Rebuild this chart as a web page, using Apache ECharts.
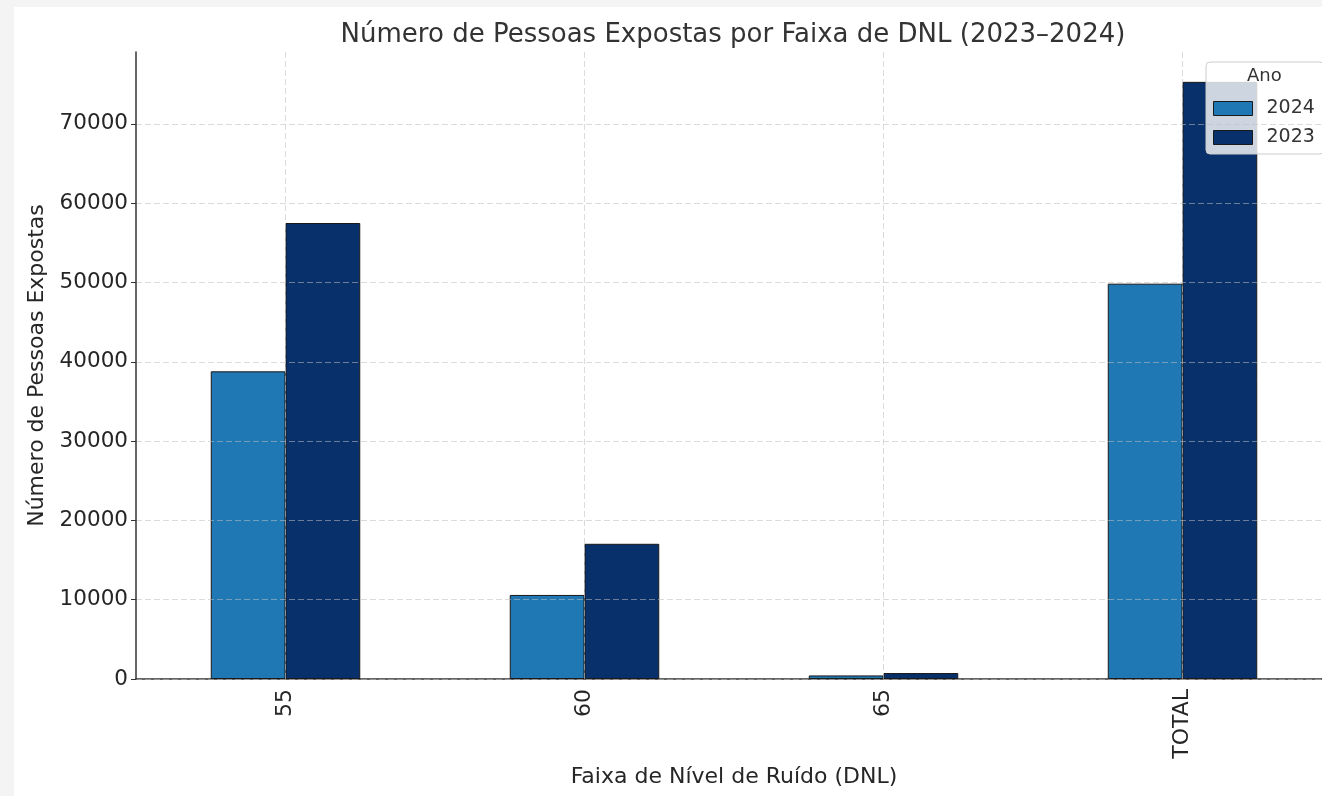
<!DOCTYPE html>
<html>
<head>
<meta charset="utf-8">
<script src="https://cdn.jsdelivr.net/npm/echarts@6/dist/echarts.min.js"></script>
<style>
  html, body { margin: 0; padding: 0; background: #f4f4f4; }
  #chart { position: absolute; left: 14px; top: 7px; width: 1308px; height: 789px; background: #fff; }
</style>
</head>
<body>
<div id="chart"></div>
<script>
// dados
const categories = ["55", "60", "65", "TOTAL"];
const values2024 = [38800, 10600, 450, 49850];
const values2023 = [57500, 17050, 750, 75300];
const yTicks = 10000;

const gridColor = "rgba(190,190,190,0.55)";
const textColor = "#262626";
const font = "DejaVu Sans";

const chart = echarts.init(document.getElementById("chart"));
const yMax = Math.max(...values2023, ...values2024) * 1.05;

const option = {
  animation: false,
  textStyle: { fontFamily: font },
  title: {
    text: "Número de Pessoas Expostas por Faixa de DNL (2023–2024)",
    left: 714,
    textAlign: "center",
    top: 10,
    textStyle: { fontFamily: font, fontSize: 26, fontWeight: "normal", color: "#333" }
  },
  graphic: [{
    type: "text",
    left: 1233,
    top: 60,
    z: 100,
    style: { text: "Ano", font: "18px DejaVu Sans", fill: "#333" }
  }],
  legend: {
    orient: "vertical",
    left: 1192,
    top: 55,
    padding: [37, 9, 7, 7],
    itemWidth: 39,
    itemHeight: 14,
    itemGap: 10,
    icon: "rect",
    backgroundColor: "rgba(255,255,255,0.8)",
    borderColor: "#cccccc",
    borderWidth: 1,
    borderRadius: 4,
    data: ["2024", "2023"],
    itemStyle: { borderColor: "#1a1a1a", borderWidth: 1 },
    textStyle: { fontFamily: font, fontSize: 19, color: "#333", padding: [0, 0, 0, 9] }
  },
  grid: { left: 122, right: -10, top: 45, bottom: 117, outerBoundsMode: "none", containLabel: false },
  xAxis: {
    type: "category",
    data: categories,
    name: "Faixa de Nível de Ruído (DNL)",
    nameLocation: "middle",
    nameGap: 76,
    nameTextStyle: { fontFamily: font, fontSize: 22, color: textColor },
    axisLine: { lineStyle: { color: "#333", width: 1.5 } },
    axisTick: { alignWithLabel: true, length: 5, lineStyle: { color: "#333" } },
    axisLabel: { rotate: 90, fontSize: 22, color: textColor, margin: 10, fontFamily: font },
    splitLine: { show: false }
  },
  yAxis: {
    type: "value",
    min: 0,
    max: yMax,
    interval: yTicks,
    z: 5,
    name: "Número de Pessoas Expostas",
    nameLocation: "middle",
    nameGap: 88,
    nameTextStyle: { fontFamily: font, fontSize: 22, color: textColor },
    axisLine: { show: true, lineStyle: { color: "#333", width: 1.5 } },
    axisTick: { show: true, length: 5, lineStyle: { color: "#333" } },
    axisLabel: {
      fontSize: 21.5, color: textColor, margin: 8, showMaxLabel: false, fontFamily: font,
      formatter: v => String(v)
    },
    splitLine: { show: true, showMaxLine: false, lineStyle: { color: gridColor, type: [6, 3], width: 1 } }
  },
  series: [
    {
      name: "2024",
      type: "bar",
      data: values2024,
      barWidth: "25%",
      barGap: "0%",
      itemStyle: { color: "#1f77b4", borderColor: "#1a1a1a", borderWidth: 1 }
    },
    {
      name: "2023",
      type: "bar",
      data: values2023,
      barWidth: "25%",
      barGap: "0%",
      itemStyle: { color: "#08306b", borderColor: "#1a1a1a", borderWidth: 1 }
    },
    {
      // linhas de grade verticais no centro de cada categoria
      name: "grade",
      type: "line",
      data: [],
      z: 4,
      silent: true,
      markLine: {
        silent: true,
        symbol: "none",
        label: { show: false },
        lineStyle: { color: gridColor, type: [6, 3], width: 1 },
        data: categories.map(c => ({ xAxis: c }))
      }
    }
  ]
};

chart.setOption(option);
</script>
</body>
</html>
